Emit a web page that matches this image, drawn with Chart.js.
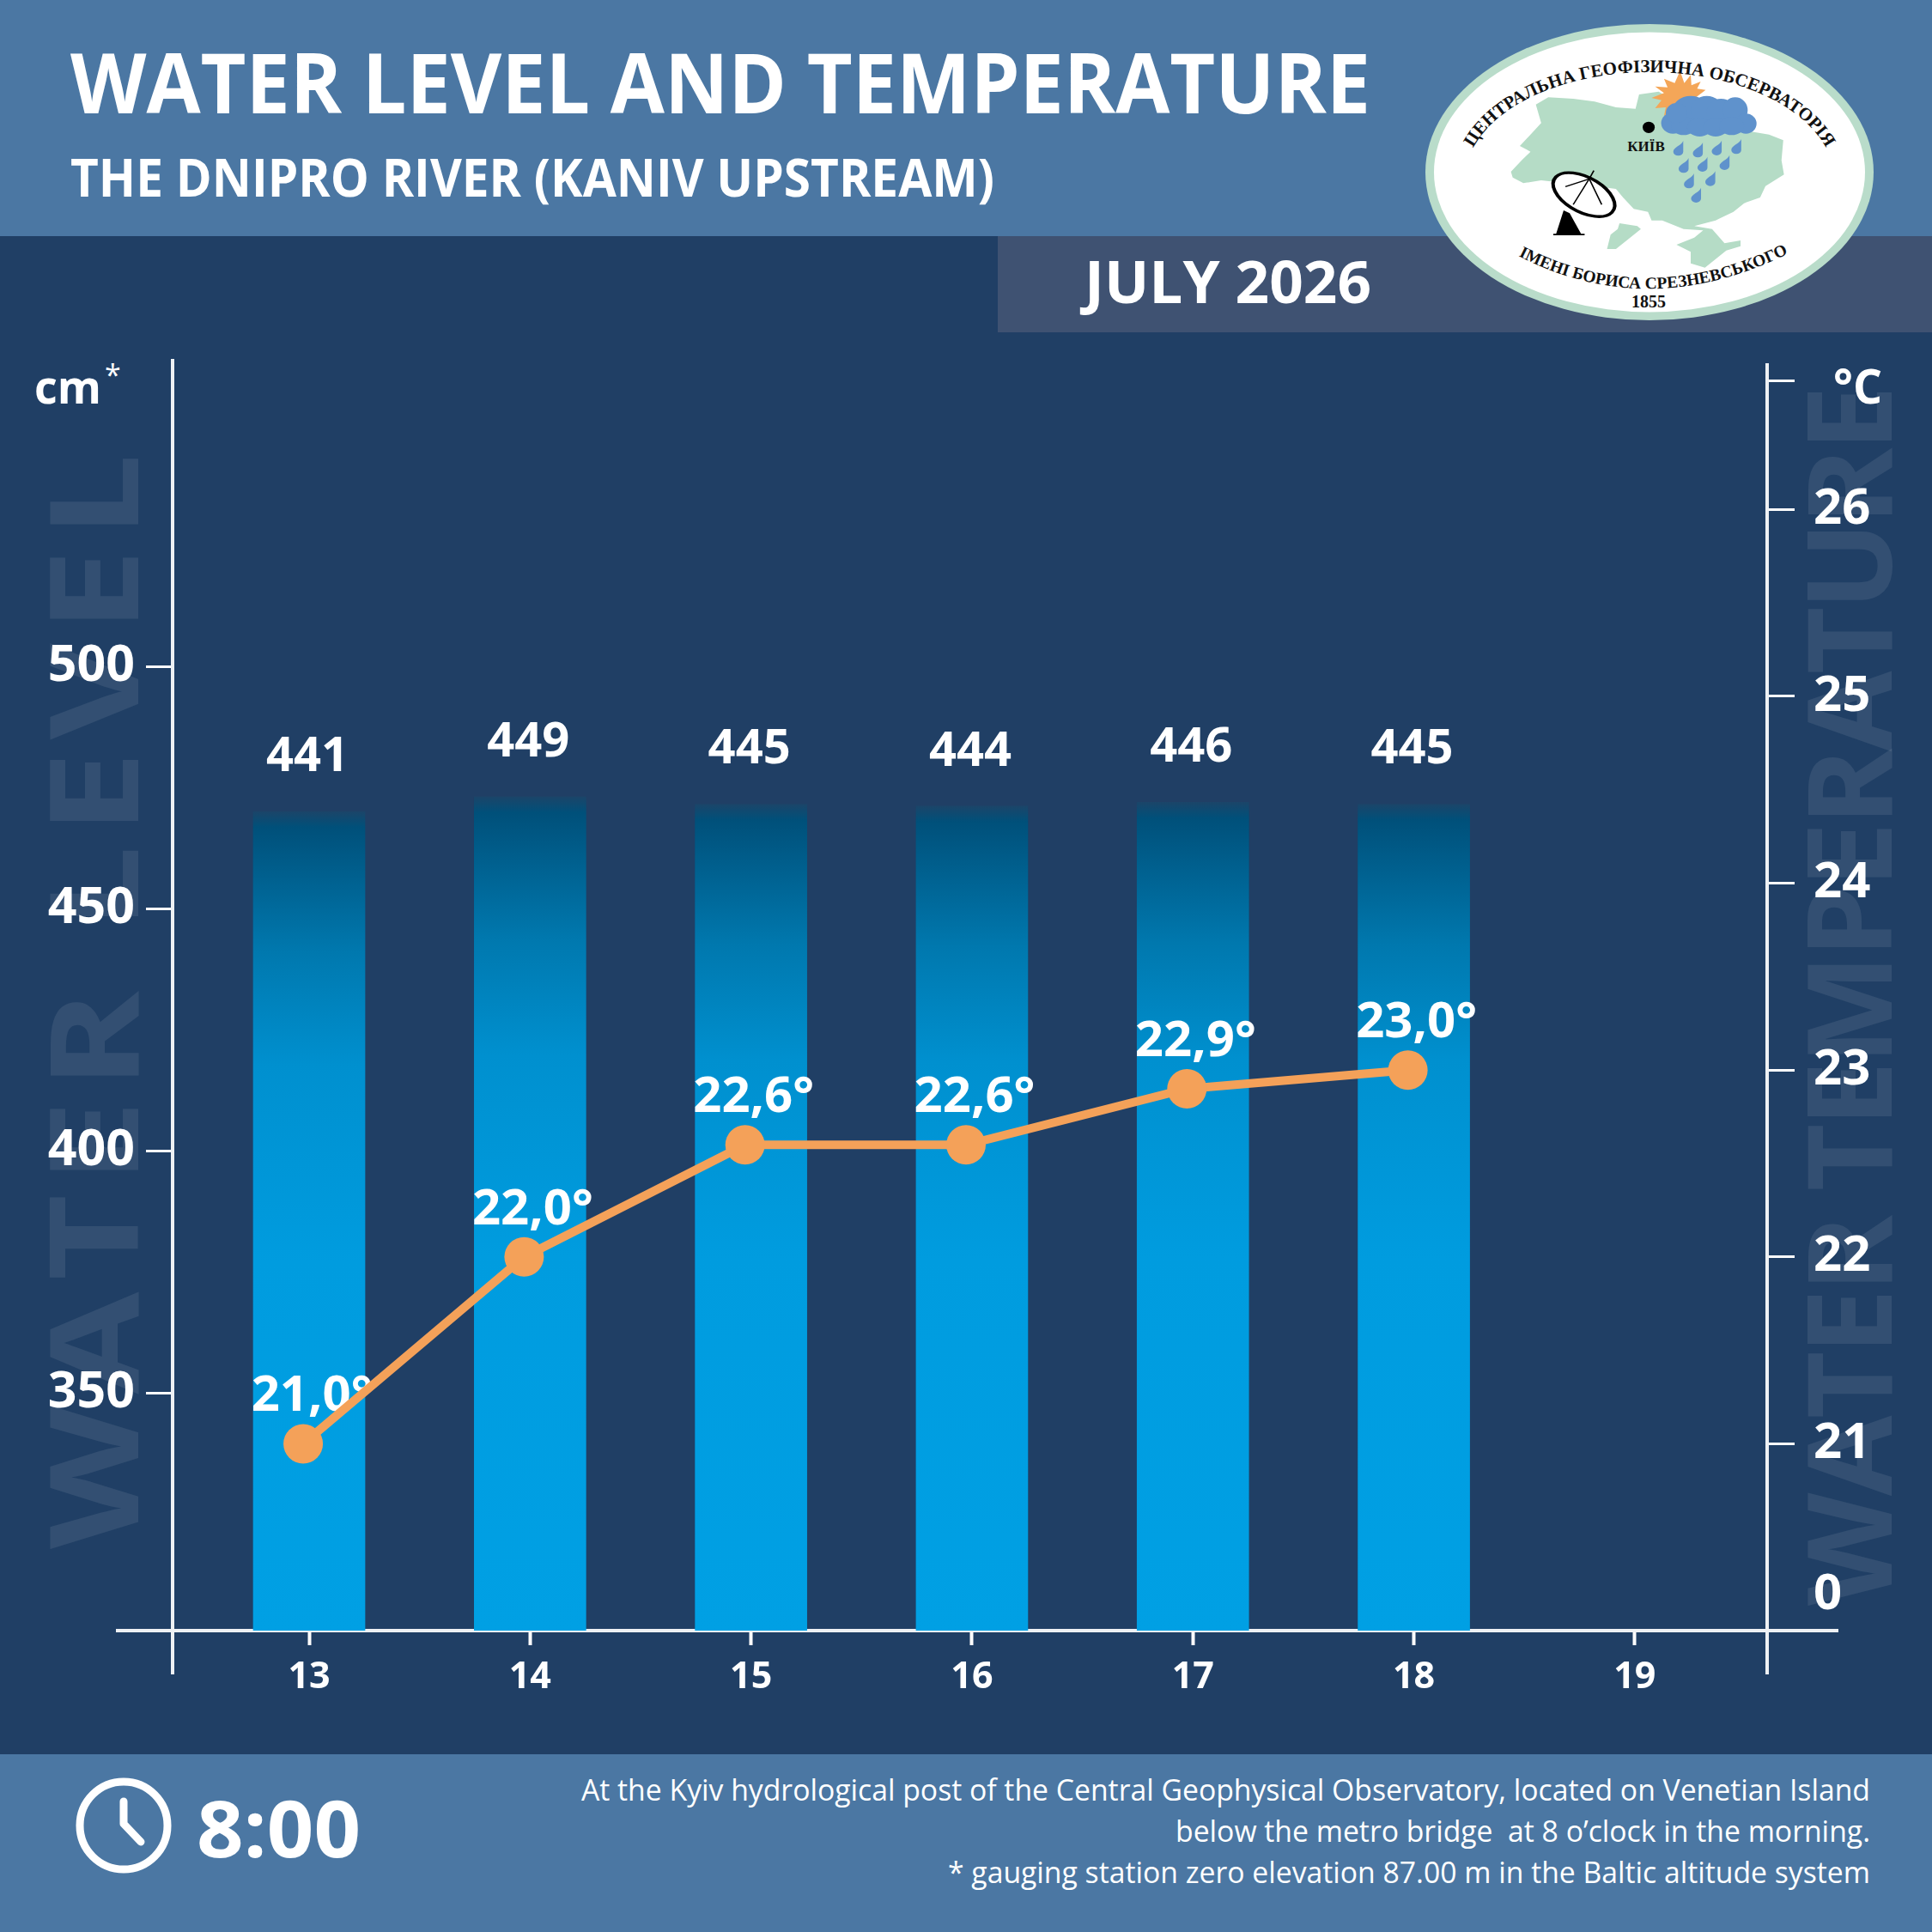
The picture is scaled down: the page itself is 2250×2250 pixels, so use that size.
<!DOCTYPE html>
<html lang="en">
<head>
<meta charset="utf-8">
<title>Water level and temperature</title>
<script src="https://cdn.jsdelivr.net/npm/chart.js@4"></script>
<style>
  html, body { margin: 0; padding: 0; background: #203f65; }
  #page { position: relative; width: 2250px; height: 2250px; overflow: hidden; }
  #backdrop, #chart { position: absolute; left: 0; top: 0; }
  #backdrop text { font-family: "Open Sans", sans-serif; fill: #fff; }
  #backdrop .serif { font-family: "Liberation Serif", serif; font-weight: 700; fill: #111; }
</style>
</head>
<body>
<div id="page">
<svg id="backdrop" width="2250" height="2250" viewBox="0 0 2250 2250" xmlns="http://www.w3.org/2000/svg">
  <rect x="0" y="0" width="2250" height="2250" fill="#203f65"/>
  <rect x="0" y="0" width="2250" height="275" fill="#4b77a3"/>
  <rect x="1162" y="275" width="1088" height="112" fill="#3f5272"/>
  <rect x="0" y="2043" width="2250" height="207" fill="#4b77a3"/>

  <text x="82" y="132" font-size="97" font-weight="700" textLength="1514" lengthAdjust="spacingAndGlyphs">WATER LEVEL AND TEMPERATURE</text>
  <text x="82" y="229" font-size="60" font-weight="700" textLength="1076" lengthAdjust="spacingAndGlyphs">THE DNIPRO RIVER (KANIV UPSTREAM)</text>
  <text x="1263" y="353" font-size="68" font-weight="700" textLength="334" lengthAdjust="spacingAndGlyphs">JULY 2026</text>

  <!-- faint axis captions running up both sides -->
  <text transform="translate(161,1804) rotate(-90) scale(1.2,1)" font-size="144" font-weight="700" style="fill:#fff;fill-opacity:.085" textLength="1063" lengthAdjust="spacing">WATER LEVEL</text>
  <text transform="translate(2203,1870) rotate(-90)" font-size="136" font-weight="700" style="fill:#fff;fill-opacity:.085" textLength="1421" lengthAdjust="spacing">WATER TEMPERATURE</text>

  <!-- unit captions -->
  <text x="40" y="470" font-size="54" font-weight="700" textLength="78" lengthAdjust="spacingAndGlyphs">cm</text>
  <text x="122" y="449" font-size="34" font-weight="400">*</text>
  <text x="2135" y="470" font-size="56" font-weight="700" textLength="57" lengthAdjust="spacingAndGlyphs">°C</text>

  <!-- observatory emblem -->
  <ellipse cx="1921" cy="200.5" rx="261" ry="172.5" fill="#b9dcca"/>
  <ellipse cx="1921" cy="200.5" rx="251" ry="163" fill="#fff"/>
  <g transform="translate(1600,0) scale(0.4146,0.3333)">
    <path fill="#b5dcc6" d="M385 600 L415 560 L440 530 L410 510 L440 470 L470 430 L455 365 L490 340 L560 345 L620 355 L680 375 L735 380 L745 330 L800 320 L880 380 L1000 440 L1060 460 L1110 470 L1150 490 L1145 560 L1152 610 L1100 650 L1085 690 L1040 710 L1010 740 L960 770 L900 790 L950 800 L985 850 L1030 840 L1030 860 L990 875 L930 935 L890 920 L890 880 L850 855 L900 830 L925 805 L870 800 L810 770 L780 770 L770 740 L730 730 L700 690 L680 660 L620 650 L540 640 L470 630 L420 640 L390 620 Z"/>
    <path fill="#b5dcc6" d="M690 780 L740 790 L750 800 L720 830 L680 870 L655 870 L665 820 L685 800 Z"/>
    <polygon fill="#f4a658" points="860,248 872,290 890,262 892,298 918,285 908,310 932,314 905,340 925,365 890,360 880,410 850,375 815,405 820,375 790,378 808,350 780,342 815,325 790,302 825,305 815,275 845,290"/>
    <g fill="#5f92cc">
      <ellipse cx="890" cy="390" rx="52" ry="55"/><ellipse cx="935" cy="385" rx="45" ry="50"/>
      <ellipse cx="975" cy="390" rx="40" ry="45"/><ellipse cx="1015" cy="385" rx="35" ry="45"/>
      <ellipse cx="1045" cy="432" rx="30" ry="35"/><ellipse cx="840" cy="430" rx="33" ry="37"/>
      <ellipse cx="870" cy="440" rx="35" ry="32"/><ellipse cx="915" cy="445" rx="35" ry="32"/>
      <ellipse cx="960" cy="445" rx="35" ry="32"/><ellipse cx="1005" cy="440" rx="35" ry="32"/>
      <ellipse cx="850" cy="395" rx="30" ry="35"/>
    </g>
    <defs><path id="drop" d="M14 -26 C10 -10 -14 -4 -14 12 A14 14 0 0 0 14 12 Z"/></defs>
    <g fill="#5f92cc">
      <use href="#drop" x="855" y="518"/><use href="#drop" x="910" y="524"/><use href="#drop" x="963" y="517"/>
      <use href="#drop" x="1018" y="512"/><use href="#drop" x="870" y="578"/><use href="#drop" x="923" y="574"/>
      <use href="#drop" x="985" y="568"/><use href="#drop" x="885" y="632"/><use href="#drop" x="945" y="624"/>
      <use href="#drop" x="905" y="682"/>
    </g>
    <ellipse cx="772" cy="445" rx="17" ry="20" fill="#000"/>
    <g fill="none" stroke="#000">
      <ellipse cx="590" cy="680" rx="100" ry="58" transform="rotate(38 590 680)" fill="#fff" stroke-width="10"/>
      <path stroke-width="4" d="M605 625 L538 652 M605 625 L560 715 M605 625 L640 715 M605 625 L618 596"/>
    </g>
    <path fill="#000" d="M533 735 L550 745 L582 817 L592 817 L592 822 L504 822 L504 817 L512 817 Z"/>
  </g>
  <defs>
    <path id="arcTop" d="M1708 192 A215 125 0 0 1 2134 192"/>
    <path id="arcBottom" d="M1768 298 Q1920 376 2083 295"/>
  </defs>
  <text class="serif" font-size="21"><textPath href="#arcTop" startOffset="50%" text-anchor="middle">ЦЕНТРАЛЬНА ГЕОФІЗИЧНА ОБСЕРВАТОРІЯ</textPath></text>
  <text class="serif" font-size="19.5"><textPath href="#arcBottom" startOffset="50%" text-anchor="middle">ІМЕНІ БОРИСА СРЕЗНЕВСЬКОГО</textPath></text>
  <text class="serif" x="1920" y="358" font-size="20" text-anchor="middle">1855</text>
  <text class="serif" x="1917" y="176" font-size="17" text-anchor="middle">КИЇВ</text>

  <!-- footer -->
  <circle cx="144" cy="2126" r="51" fill="none" stroke="#fff" stroke-width="9"/>
  <path d="M144 2098 V2124 L164 2145" fill="none" stroke="#fff" stroke-width="9" stroke-linecap="round" stroke-linejoin="round"/>
  <text x="229" y="2163" font-size="92" font-weight="700" textLength="191" lengthAdjust="spacingAndGlyphs">8:00</text>
  <text x="677" y="2097" font-size="35" textLength="1501" lengthAdjust="spacingAndGlyphs">At the Kyiv hydrological post of the Central Geophysical Observatory, located on Venetian Island</text>
  <text x="1369" y="2145" font-size="35" textLength="809" lengthAdjust="spacingAndGlyphs" xml:space="preserve">below the metro bridge  at 8 o’clock in the morning.</text>
  <text x="1104" y="2193" font-size="35" textLength="1074" lengthAdjust="spacingAndGlyphs">* gauging station zero elevation 87.00 m in the Baltic altitude system</text>
</svg>
<canvas id="chart" width="2250" height="2250"></canvas>
</div>

<script>
// July 2026 readings at the Kyiv post, one per morning
const days = [13, 14, 15, 16, 17, 18, 19];
const levelDays = [13, 14, 15, 16, 17, 18];
const levelCm = [441, 449, 445, 444, 446, 445];
const tempDays = [13, 14, 15, 16, 17, 18];
const tempC = [21.0, 22.0, 22.6, 22.6, 22.9, 23.0];

// Axis tick labels
const levelTicks = [350, 400, 450, 500];
const tempTicks = [21, 22, 23, 24, 25, 26];

const FONT = '"Open Sans", sans-serif';
const WHITE = '#ffffff';
const ORANGE = '#f4a159';
const GRID_EDGE = 26.69;   // unlabelled top tick on the temperature axis
const ZERO_MARK = 20.19;   // where the broken-axis "0" is lettered

// Per-bar gradient: a short fade in at the top, dark teal to bright blue below
function barFill(ctx) {
  const { chart, raw } = ctx;
  const yScale = chart.scales.yBars;
  if (!yScale || !raw) return '#00a0e4';
  const top = yScale.getPixelForValue(raw.y);
  const bottom = yScale.getPixelForValue(0);
  if (!Number.isFinite(top) || !Number.isFinite(bottom)) return '#00a0e4';
  const g = chart.ctx.createLinearGradient(0, top, 0, bottom);
  g.addColorStop(0, '#1b4569');
  g.addColorStop(0.019, '#00507a');
  g.addColorStop(0.17, '#0078ae');
  g.addColorStop(0.31, '#0090cf');
  g.addColorStop(0.55, '#009cdf');
  g.addColorStop(1, '#00a0e4');
  return g;
}

// Axis frame: both verticals run below the baseline and the baseline overshoots both
const axisFrame = {
  id: 'axisFrame',
  beforeDatasetsDraw(chart) {
    const { ctx, chartArea: a } = chart;
    ctx.save();
    ctx.strokeStyle = '#eef1f4';
    ctx.lineWidth = 4;
    ctx.beginPath();
    ctx.moveTo(a.left - 66, a.bottom); ctx.lineTo(a.right + 83, a.bottom);
    ctx.moveTo(a.left, a.top); ctx.lineTo(a.left, a.bottom + 51);
    ctx.moveTo(a.right, a.top + 5); ctx.lineTo(a.right, a.bottom + 51);
    ctx.stroke();
    ctx.restore();
  }
};

// Value captions sit beneath the temperature line, above the bars
const valueCaptions = {
  id: 'valueCaptions',
  beforeDatasetDraw(chart, args) {
    if (args.index !== 1) return;
    const { ctx } = chart;
    ctx.save();
    ctx.fillStyle = WHITE;
    ctx.textBaseline = 'alphabetic';
    ctx.textAlign = 'center';

    ctx.font = `700 56px ${FONT}`;
    chart.getDatasetMeta(0).data.forEach((bar, i) => {
      ctx.fillText(String(levelCm[i]), bar.x - 2, bar.y - 47);
    });

    ctx.font = `700 58px ${FONT}`;
    chart.getDatasetMeta(1).data.forEach((pt, i) => {
      const label = tempC[i].toFixed(1).replace('.', ',') + '°';
      ctx.fillText(label, pt.x + 10, pt.y - 38);
    });
    ctx.restore();
  }
};

new Chart(document.getElementById('chart'), {
  data: {
    datasets: [
      {
        type: 'bar',
        label: 'Water level, cm',
        data: levelDays.map((d, i) => ({ x: d, y: levelCm[i] })),
        xAxisID: 'x',
        yAxisID: 'yBars',
        barThickness: 130,
        grouped: false,
        backgroundColor: barFill,
        borderWidth: 0,
        order: 2
      },
      {
        type: 'line',
        label: 'Water temperature, °C',
        data: tempDays.map((d, i) => ({ x: d, y: tempC[i] })),
        xAxisID: 'xTemp',
        yAxisID: 'yTemp',
        borderColor: ORANGE,
        borderWidth: 10,
        backgroundColor: ORANGE,
        pointBackgroundColor: ORANGE,
        pointBorderWidth: 0,
        pointRadius: 23,
        tension: 0,
        fill: false,
        clip: false,
        order: 1
      }
    ]
  },
  plugins: [axisFrame, valueCaptions],
  options: {
    responsive: false,
    animation: false,
    events: [],
    layout: { padding: { top: 418, left: 0, right: 0, bottom: 0 } },
    plugins: { legend: { display: false }, title: { display: false }, tooltip: { enabled: false } },
    scales: {
      x: {
        type: 'linear',
        position: 'bottom',
        offset: false,
        min: 12.382,
        max: 19.599,
        afterBuildTicks: s => { s.ticks = days.map(v => ({ value: v })); },
        afterFit: s => { s.height = 351; },
        border: { display: false },
        grid: { offset: false, drawOnChartArea: false, drawTicks: true, tickLength: 17, tickWidth: 4, tickColor: WHITE },
        ticks: {
          color: WHITE, font: { family: FONT, weight: '700', size: 43 }, padding: 12,
          maxRotation: 0, autoSkip: false, callback: v => String(v)
        }
      },
      xTemp: {
        type: 'linear', display: false, axis: 'x', offset: false,
        min: 12.409,
        max: 19.626
      },
      yBars: { type: 'linear', display: false, position: 'left', min: 0, max: 684.7 },
      y: {
        type: 'linear',
        position: 'left',
        min: 300.9,
        max: 563.6,
        afterBuildTicks: s => { s.ticks = levelTicks.map(v => ({ value: v })); },
        afterFit: s => { s.width = 201; },
        border: { display: false },
        grid: { drawOnChartArea: false, drawTicks: true, tickLength: 31, tickWidth: 3, tickColor: WHITE },
        ticks: {
          color: WHITE, font: { family: FONT, weight: '700', size: 59 }, padding: 13,
          autoSkip: false, callback: v => String(v)
        }
      },
      yTemp: {
        type: 'linear',
        position: 'right',
        min: 20,
        max: 26.806,
        afterBuildTicks: s => {
          s.ticks = [ZERO_MARK, ...tempTicks, GRID_EDGE].map(v => ({ value: v }));
        },
        afterFit: s => { s.width = 192; },
        border: { display: false },
        grid: {
          drawOnChartArea: false, drawTicks: true, tickLength: 32, tickWidth: 3,
          tickColor: c => (c.tick && c.tick.value === ZERO_MARK ? 'rgba(0,0,0,0)' : WHITE)
        },
        ticks: {
          color: WHITE, font: { family: FONT, weight: '700', size: 58 }, padding: 22,
          autoSkip: false,
          callback: v => (v === ZERO_MARK ? '0' : v === GRID_EDGE ? '' : String(v))
        }
      }
    }
  }
});
</script>
</body>
</html>
